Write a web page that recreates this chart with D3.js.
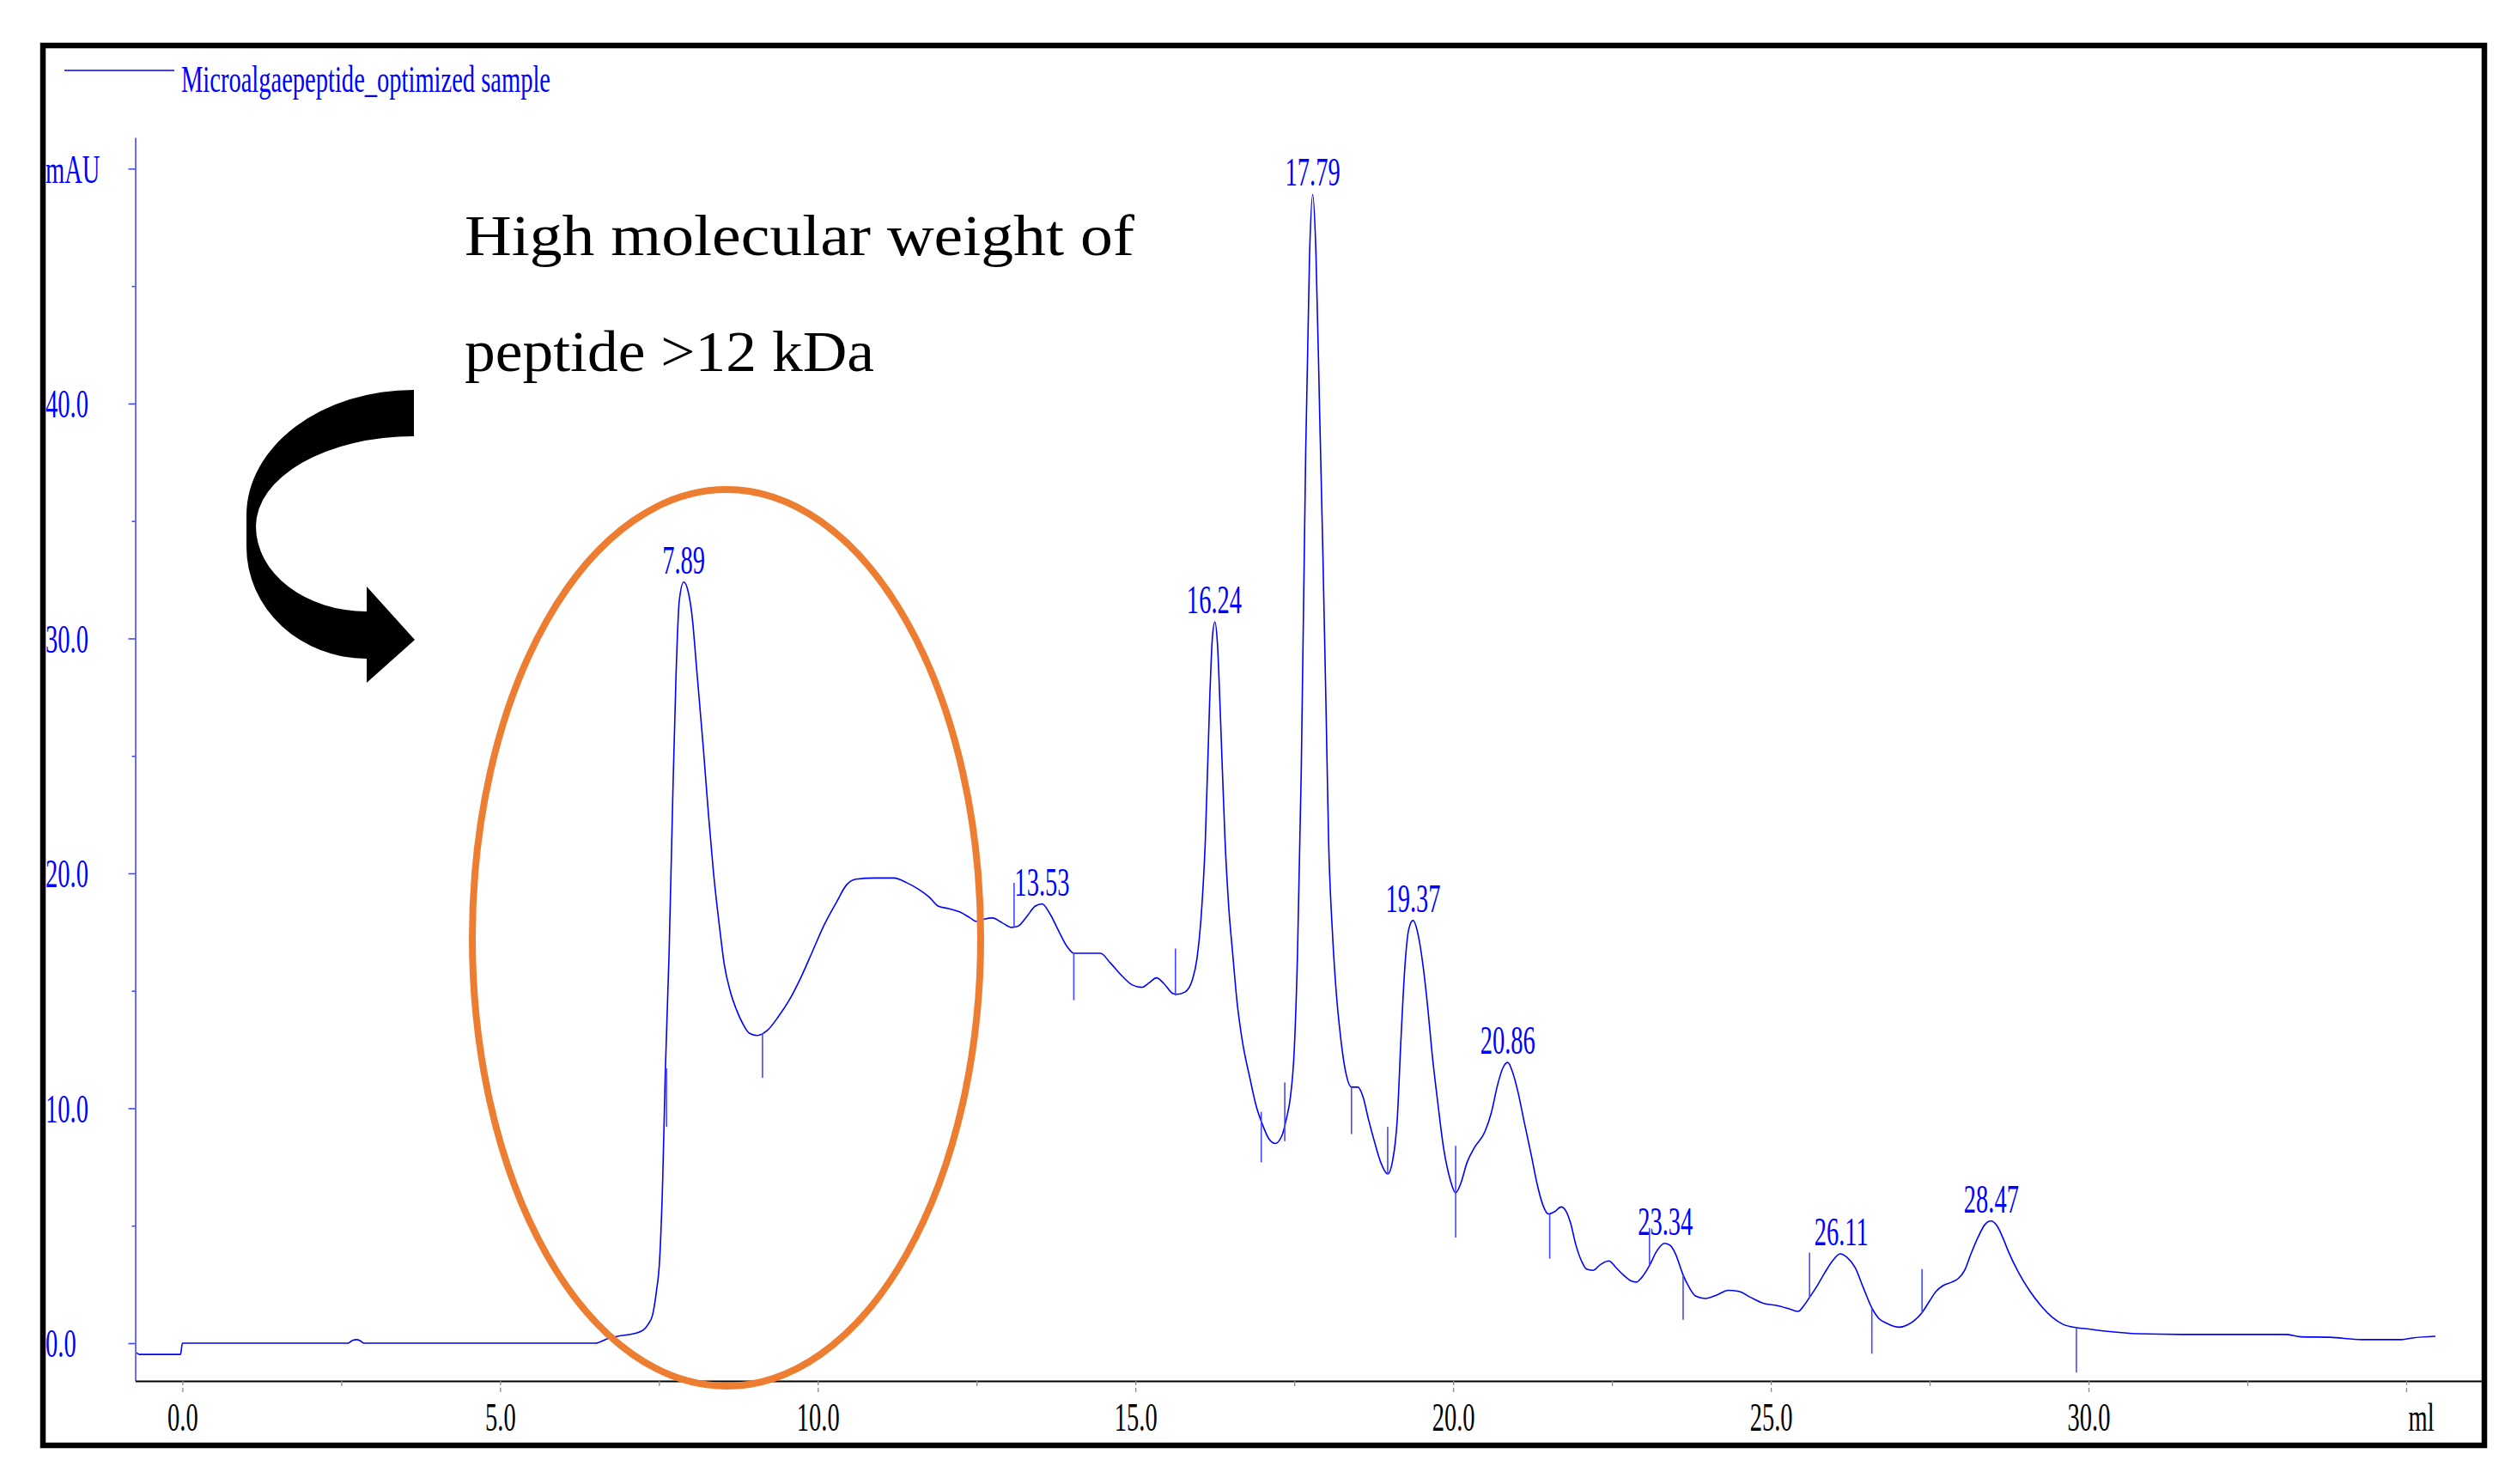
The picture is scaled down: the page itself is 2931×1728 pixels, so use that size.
<!DOCTYPE html>
<html>
<head>
<meta charset="utf-8">
<script src="https://cdn.jsdelivr.net/npm/d3@7"></script>
<style>
  html, body { margin: 0; padding: 0; background: #ffffff; }
  svg { display: block; }
</style>
</head>
<body>
<script>
// ---------------- DATA ----------------
const legendLabel = "Microalgaepeptide_optimized sample";
const annotationLines = ["High molecular weight of", "peptide >12 kDa"];

const xTickValues = [0, 5, 10, 15, 20, 25, 30, 35];
const xTickLabels = ["0.0", "5.0", "10.0", "15.0", "20.0", "25.0", "30.0", "ml"];
const xMinorTicks = [2.5, 7.5, 12.5, 17.5, 22.5, 27.5, 32.5];

const yTickValues = [0, 10, 20, 30, 40, 50];
const yTickLabels = ["0.0", "10.0", "20.0", "30.0", "40.0", "mAU"];
const yMinorTicks = [5, 15, 25, 35, 45];

// elution volume (ml) and absorbance (mAU) of the trace
const elutionVolume = [-0.72,-0.68,-0.03,0.0,2.6,2.68,2.74,2.8,2.86,6.5,6.7,6.9,7.1,7.25,7.33,7.4,7.46,7.51,7.56,7.6,7.66,7.72,7.77,7.82,7.89,7.96,8.02,8.1,8.2,8.28,8.36,8.45,8.53,8.62,8.72,8.82,8.92,9.05,9.2,9.38,9.55,9.74,9.92,10.1,10.3,10.45,10.6,10.9,11.2,11.4,11.6,11.75,11.9,12.06,12.24,12.4,12.5,12.62,12.75,12.9,13.05,13.15,13.3,13.42,13.53,13.65,13.8,13.92,14.03,14.2,14.45,14.6,14.8,14.95,15.1,15.22,15.33,15.45,15.58,15.65,15.78,15.9,15.97,16.03,16.1,16.17,16.21,16.25,16.29,16.34,16.41,16.47,16.53,16.6,16.68,16.8,16.9,17.0,17.1,17.2,17.3,17.38,17.44,17.5,17.55,17.61,17.68,17.74,17.79,17.84,17.9,17.95,18.0,18.04,18.1,18.15,18.23,18.32,18.4,18.5,18.58,18.67,18.77,18.86,18.97,19.05,19.12,19.18,19.24,19.3,19.37,19.44,19.52,19.6,19.67,19.76,19.85,19.95,20.04,20.12,20.22,20.33,20.5,20.6,20.7,20.78,20.86,20.94,21.02,21.12,21.23,21.32,21.41,21.5,21.6,21.7,21.78,21.85,21.93,22.02,22.1,22.2,22.32,22.45,22.57,22.68,22.8,22.88,22.97,23.09,23.2,23.33,23.42,23.5,23.62,23.72,23.82,23.97,24.15,24.33,24.5,24.68,24.88,25.1,25.3,25.43,25.52,25.61,25.72,25.85,25.97,26.09,26.2,26.33,26.45,26.59,26.7,26.82,27.02,27.15,27.25,27.38,27.5,27.6,27.71,27.85,27.95,28.05,28.15,28.26,28.37,28.46,28.56,28.65,28.74,28.9,29.08,29.25,29.43,29.6,29.81,30.0,30.3,30.77,31.5,32.5,33.1,33.35,33.8,34.3,34.93,35.1,35.46];
const absorbance = [-0.40,-0.48,-0.48,0.0,0.0,0.12,0.15,0.1,0.0,0.0,0.2,0.32,0.4,0.55,0.8,1.2,2.2,3.5,7.0,11.5,16.6,23.5,28.5,31.6,32.4,32.0,31.0,28.5,25.3,22.5,20.0,17.8,16.1,15.0,14.2,13.6,13.2,13.1,13.3,13.9,14.6,15.6,16.7,17.8,18.8,19.5,19.75,19.8,19.8,19.6,19.3,19.0,18.6,18.5,18.35,18.1,17.95,18.05,18.1,17.9,17.7,17.75,18.2,18.6,18.7,18.3,17.5,16.9,16.6,16.6,16.6,16.2,15.6,15.25,15.15,15.35,15.55,15.3,14.9,14.85,14.95,15.5,16.4,18.0,21.4,27.5,30.0,30.7,29.8,26.5,21.4,18.5,16.6,14.5,12.9,11.3,10.1,9.3,8.7,8.5,8.8,9.6,10.5,12.5,16.5,24.4,38.0,46.3,48.9,46.5,39.5,33.6,27.0,21.4,17.5,15.3,13.0,11.4,10.9,10.9,10.5,9.5,8.5,7.7,7.2,7.8,9.5,13.0,16.0,17.6,18.0,17.5,16.2,14.3,12.3,10.2,8.3,7.0,6.4,6.8,7.7,8.3,9.0,9.8,11.0,11.7,11.95,11.5,10.7,9.4,8.0,6.8,5.9,5.5,5.6,5.8,5.6,5.1,4.2,3.5,3.15,3.1,3.35,3.5,3.2,2.9,2.65,2.6,2.8,3.3,3.9,4.25,4.15,3.8,2.9,2.35,2.0,1.9,2.05,2.25,2.2,1.95,1.7,1.6,1.45,1.35,1.6,1.95,2.4,3.0,3.5,3.8,3.65,3.2,2.4,1.5,1.05,0.85,0.68,0.78,0.95,1.3,1.8,2.2,2.45,2.6,2.75,3.1,3.8,4.5,5.05,5.2,5.0,4.5,3.9,3.0,2.2,1.6,1.1,0.8,0.66,0.6,0.5,0.4,0.37,0.37,0.37,0.27,0.25,0.15,0.15,0.22,0.29];

// labelled peaks
const peakVolumes = [7.89, 13.53, 16.24, 17.79, 19.37, 20.86, 23.34, 26.11, 28.47];
const peakHeights = [32.4, 18.7, 30.7, 48.9, 18.0, 11.95, 4.25, 3.8, 5.2];
const peakLabels = ["7.89", "13.53", "16.24", "17.79", "19.37", "20.86", "23.34", "26.11", "28.47"];

// peak boundary markers (ml, upper mAU, lower mAU)
const markerVolumes = [7.62, 9.13, 13.09, 14.03, 15.63, 16.98, 17.35, 18.4, 18.97, 20.04, 21.52, 23.09, 23.62, 25.61, 26.59, 27.38, 29.81];
const markerTops    = [11.7, 13.2, 19.6, 16.6, 16.8, 9.85, 11.1, 10.9, 9.2, 8.4, 5.5, 4.9, 2.9, 3.85, 1.5, 3.15, 0.66];
const markerBottoms = [9.2, 11.3, 17.7, 14.6, 14.8, 7.7, 8.6, 8.9, 7.2, 4.5, 3.6, 3.3, 1.0, 1.9, -0.45, 1.3, -1.25];

// ---------------- DRAWING ----------------
const W = 2931, H = 1728;
const BLUE = "#0000ff";
const AXISBLUE = "#4646ff";
const SX = 0.62; // horizontal condensation of the instrument font
const FONT = "'Liberation Serif', 'Times New Roman', serif";

const svg = d3.select("body").append("svg")
  .attr("width", W).attr("height", H)
  .attr("viewBox", `0 0 ${W} ${H}`);

svg.append("rect").attr("width", W).attr("height", H).attr("fill", "#ffffff");

const x = d3.scaleLinear().domain([-0.742, 36.19]).range([157.5, 2890]);
const y = d3.scaleLinear().domain([-1.609, 51.33]).range([1608, 160]);

// outer frame
svg.append("rect")
  .attr("x", 50).attr("y", 53).attr("width", 2843).attr("height", 1630)
  .attr("fill", "none").attr("stroke", "#000").attr("stroke-width", 6.5);

// legend
svg.append("line").attr("x1", 75).attr("x2", 203).attr("y1", 82).attr("y2", 82)
  .attr("stroke", BLUE).attr("stroke-width", 1.6);
svg.append("text").attr("x", 211).attr("y", 107)
  .attr("font-family", FONT).attr("font-size", 45).attr("fill", BLUE)
  .attr("textLength", 430).attr("lengthAdjust", "spacingAndGlyphs")
  .text(legendLabel);

// y axis
const yAxisG = svg.append("g").attr("transform", `translate(${x.range()[0]},0)`);
yAxisG.call(d3.axisLeft(y).tickValues(yTickValues).tickSize(8).tickSizeOuter(0)
  .tickFormat((d, i) => yTickLabels[i]));
yAxisG.select(".domain").attr("stroke", AXISBLUE).attr("stroke-width", 1.6);
yAxisG.selectAll(".tick line").attr("stroke", AXISBLUE).attr("stroke-width", 1.6);
yAxisG.selectAll(".tick text")
  .attr("font-family", FONT).attr("font-size", 46).attr("fill", BLUE)
  .attr("text-anchor", "start").attr("x", -104.5 / SX).attr("dy", "0.34em")
  .attr("transform", `scale(${SX},1)`);
const yMinorG = svg.append("g").attr("transform", `translate(${x.range()[0]},0)`);
yMinorG.call(d3.axisLeft(y).tickValues(yMinorTicks).tickSize(4).tickSizeOuter(0).tickFormat(""));
yMinorG.select(".domain").remove();
yMinorG.selectAll(".tick line").attr("stroke", AXISBLUE).attr("stroke-width", 1.6);

// x axis
const xAxisG = svg.append("g").attr("transform", `translate(0,${y.range()[0]})`);
xAxisG.call(d3.axisBottom(x).tickValues(xTickValues).tickSize(14).tickSizeOuter(0)
  .tickFormat((d, i) => xTickLabels[i]));
xAxisG.select(".domain").attr("stroke", "#000").attr("stroke-width", 2.2);
xAxisG.selectAll(".tick line").attr("stroke", "#8a8a8a").attr("stroke-width", 1.3)
  .attr("stroke-dasharray", "5,3");
xAxisG.selectAll(".tick text")
  .attr("font-family", FONT).attr("font-size", 46).attr("fill", "#000")
  .attr("y", 58).attr("dy", 0)
  .attr("transform", `scale(${SX},1)`)
  .each(function(d, i) {
    if (xTickLabels[i] === "ml") d3.select(this).attr("text-anchor", "start").attr("x", 2 / SX);
  });
const xMinorG = svg.append("g").attr("transform", `translate(0,${y.range()[0]})`);
xMinorG.call(d3.axisBottom(x).tickValues(xMinorTicks).tickSize(6).tickSizeOuter(0).tickFormat(""));
xMinorG.select(".domain").remove();
xMinorG.selectAll(".tick line").attr("stroke", "#8a8a8a").attr("stroke-width", 1.3);

// trace
const trace = elutionVolume.map((v, i) => [v, absorbance[i]]);
svg.append("path").datum(trace)
  .attr("fill", "none").attr("stroke", BLUE).attr("stroke-width", 1.6)
  .attr("stroke-linejoin", "round")
  .attr("d", d3.line().x(d => x(d[0])).y(d => y(d[1])).curve(d3.curveMonotoneX));

// peak boundary markers
svg.append("g").selectAll("line").data(markerVolumes).join("line")
  .attr("x1", d => x(d)).attr("x2", d => x(d))
  .attr("y1", (d, i) => y(markerTops[i])).attr("y2", (d, i) => y(markerBottoms[i]))
  .attr("stroke", AXISBLUE).attr("stroke-width", 1.6);

// peak labels
svg.append("g").selectAll("text").data(peakVolumes).join("text")
  .attr("transform", (d, i) => `translate(${x(d)},${y(peakHeights[i]) - 10}) scale(${SX},1)`)
  .attr("text-anchor", "middle")
  .attr("font-family", FONT).attr("font-size", 46).attr("fill", BLUE)
  .text((d, i) => peakLabels[i]);

// orange ellipse highlighting the high-MW region
svg.append("ellipse")
  .attr("cx", 846).attr("cy", 1092).attr("rx", 296).attr("ry", 522)
  .attr("fill", "none").attr("stroke", "#ED7D31").attr("stroke-width", 8);

// curved black arrow
svg.append("path")
  .attr("d", "M482,454 A195,146 0 0 0 287,600 L287,637 A140,130 0 0 0 427,767 L427,795 L483,745 L427,683 L427,712 A129,99 0 0 1 298,613 A184,105 0 0 1 482,508 Z")
  .attr("fill", "#000");

// annotation text
const annWidths = [780, 477];
svg.append("g").selectAll("text").data(annotationLines).join("text")
  .attr("x", 541).attr("y", (d, i) => [297, 432][i])
  .attr("font-family", "'Liberation Serif', 'Times New Roman', serif")
  .attr("font-size", 68).attr("fill", "#000")
  .attr("textLength", (d, i) => annWidths[i]).attr("lengthAdjust", "spacingAndGlyphs")
  .text(d => d);
</script>
</body>
</html>
